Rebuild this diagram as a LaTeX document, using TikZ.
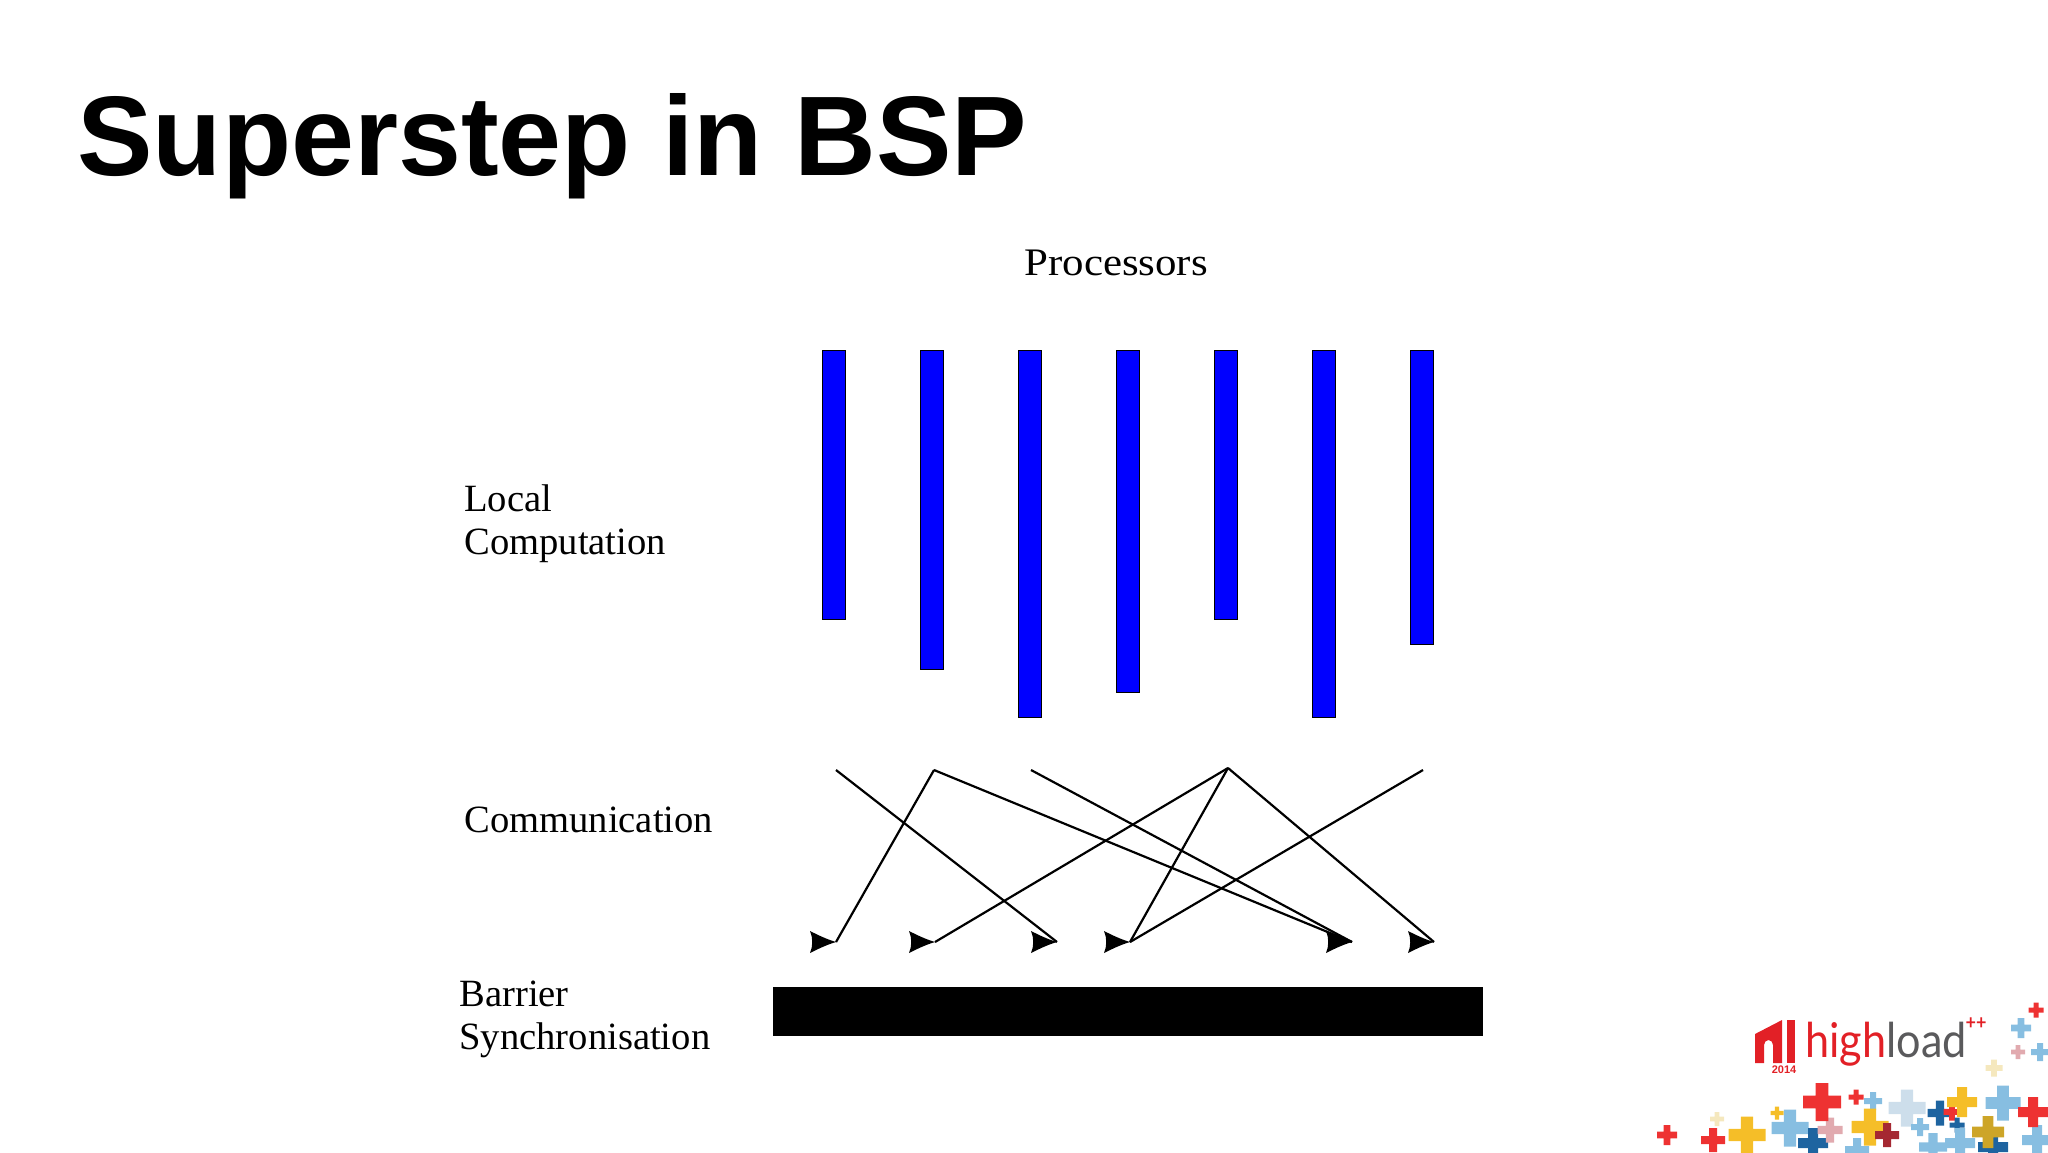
\documentclass[tikz,border=0pt]{standalone}
\usepackage{fontspec}
\setmainfont{Liberation Serif}
\newfontfamily\titlefont{Liberation Sans}
\newfontfamily\logofont[FakeStretch=0.9]{Lato}
\newfontfamily\widefont[FakeStretch=1.1]{Liberation Serif}
\usepackage{tikz}
\usetikzlibrary{calc}
\tikzset{>=latex}
\definecolor{logored}{RGB}{226,32,38}
\definecolor{logogray}{RGB}{90,90,92}
\definecolor{plusred}{RGB}{238,50,50}
\definecolor{plusyellow}{RGB}{245,190,40}
\definecolor{plusblue}{RGB}{135,190,225}
\definecolor{pluspale}{RGB}{205,222,235}
\definecolor{plusdark}{RGB}{30,100,160}
\definecolor{plusgold}{RGB}{205,165,40}
\definecolor{pluspink}{RGB}{225,170,175}
\definecolor{plusmaroon}{RGB}{165,40,50}
\definecolor{pluscream}{RGB}{245,232,190}
\tikzset{
    label text/.style={anchor=base west,inner sep=0pt,align=left,font=\fontsize{19.3}{21.5}\selectfont},
    proc bar/.style={draw=black,line width=0.4pt,fill=blue,inner sep=0pt,minimum width=11.8pt,anchor=north},
    msg line/.style={line width=1.1pt,black},
    head tip/.pic={\fill[black] (0,0) .. controls (-10,-3) and (-18,-7) .. (-26,-11) .. controls (-23,-4) and (-23,4) .. (-26,11) .. controls (-18,7) and (-10,3) .. (0,0) -- cycle;}
}
\begin{document}
\begin{tikzpicture}[x=0.5pt,y=-0.5pt]
    \useasboundingbox (0,0) rectangle (2048,1152);
    \node[anchor=base west,inner sep=0pt,font=\titlefont\bfseries\fontsize{56.6}{60}\selectfont] (title) at (77,175) {Superstep in BSP};
    \node[label text,font=\widefont\fontsize{19.5}{21.5}\selectfont] (processors) at (1024,275) {Processors};
    \node[label text] (local) at (464,554) {Local\\Computation};
    \node[label text] (communication) at (464,832) {Communication};
    \node[label text] (barrierlabel) at (459,1049) {Barrier\\Synchronisation};

    \foreach \k/\x/\len in {1/834/269,2/932/319,3/1030/367,4/1128/342,5/1226/269,6/1324/367,7/1422/294} {
      \node[proc bar,minimum height=\len*0.5pt] (bar\k) at (\x,350) {};
    }
    \node[fill=black,inner sep=0pt,minimum width=355pt,minimum height=24.5pt,anchor=north west] (barrier) at (773,987) {};

    \foreach \k/\x/\y in {1/836/770,2/934/770,3/1031/770,4/1228/768,5/1423/770} {
      \coordinate (src\k) at (\x,\y);
    }
    \foreach \k/\x in {1/836,2/935,3/1057,4/1130,5/1352,6/1434} {
      \coordinate (tip\k) at (\x,942);
    }
    \draw[msg line] (src1) -- (tip3);
    \draw[msg line] (src2) -- (tip1);
    \draw[msg line] (src2) -- (tip5);
    \draw[msg line] (src3) -- (tip5);
    \draw[msg line] (src4) -- (tip2);
    \draw[msg line] (src4) -- (tip4);
    \draw[msg line] (src4) -- (tip6);
    \draw[msg line] (src5) -- (tip4);
    \foreach \k in {1,...,6} {
      \pic at (tip\k) {head tip};
    }

    \begin{scope}
	    \clip (0,0) rectangle (2048,1152);
		\foreach \x/\y/\s/\c in {1667/1135/20/plusred,1713/1140/24/plusred,1717/1119/14/pluscream,1747/1135/37/plusyellow,
		    1777/1113/13/plusyellow,1790/1128/37/plusblue,1813/1143/30/plusdark,1830/1130/25/pluspink,1822/1102/38/plusred,
		    1856/1097/15/plusred,1873/1101/18/plusblue,1857/1150/24/plusblue,1870/1127/37/plusyellow,1887/1135/24/plusmaroon,
		    1907/1108/37/pluspale,1920/1127/18/plusblue,1933/1147/28/plusblue,1940/1113/25/plusdark,1952/1112/17/plusred,
		    1957/1125/15/plusdark,1960/1143/30/plusblue,1962/1102/30/plusyellow,1993/1147/30/plusdark,1988/1132/32/plusgold,
		    2003/1103/35/plusblue,2037/1140/30/plusblue,2033/1112/30/plusred,2036/1010/15/plusred,2021/1028/20/plusblue,
		    2018/1052/14/pluspink,2040/1052/18/plusblue,1994/1068/17/pluscream} {
	      \fill[\c] (\x-\s/2,\y-\s/6) rectangle (\x+\s/2,\y+\s/6) (\x-\s/6,\y-\s/2) rectangle (\x+\s/6,\y+\s/2);
    	}
    \end{scope}

    \fill[logored] (1755,1063) -- (1755,1034) -- (1782,1020) -- (1782,1063) -- (1773,1063) -- (1773,1045) arc (0:-180:4.5 and 5) -- (1764,1063) -- cycle;
    \fill[logored] (1787,1020) rectangle (1795,1063);
    \node[anchor=base west,inner sep=0pt,font=\logofont\fontsize{24}{24}\selectfont] (logo) at (1805,1057) {\textcolor{logored}{high}\textcolor{logogray}{load}};
    \node[inner sep=0pt,text=logored,font=\logofont\bfseries\fontsize{10}{10}\selectfont] (logoplus) at (1976,1024) {++};
    \node[inner sep=0pt,text=logored,font=\titlefont\bfseries\fontsize{5.5}{6}\selectfont] (logoyear) at (1784,1070) {2014};
\end{tikzpicture}
\end{document}
